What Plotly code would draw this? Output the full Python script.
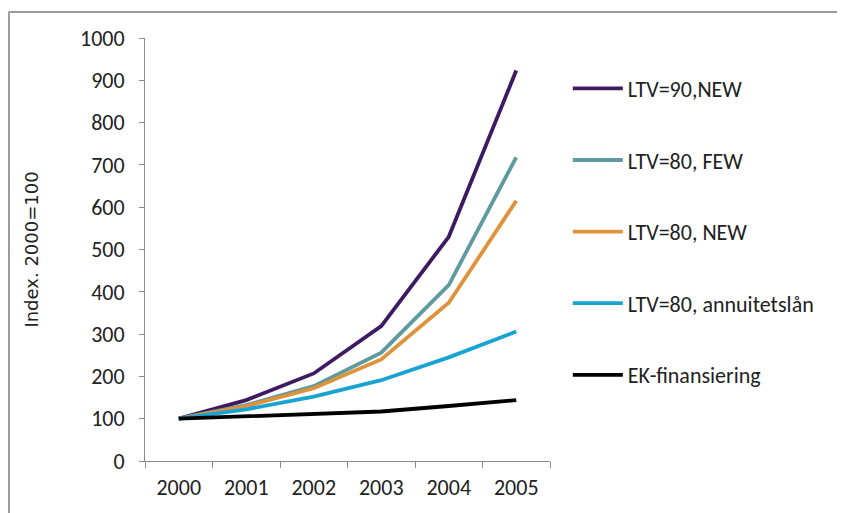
import plotly.graph_objects as go

years = ["2000", "2001", "2002", "2003", "2004", "2005"]
ltv90_new = [100, 144, 207, 319, 530, 923]
ltv80_few = [100, 132, 177, 256, 416, 718]
ltv80_new = [100, 130, 172, 240, 374, 615]
ltv80_ann = [100, 122, 152, 191, 245, 306]
ek_fin = [100, 106, 113, 117, 130, 144]

names = ["LTV=90,NEW", "LTV=80, FEW", "LTV=80, NEW", "LTV=80, annuitetslån", "EK-finansiering"]
series = [ltv90_new, ltv80_few, ltv80_new, ltv80_ann, ek_fin]
colors = ["#3d1a62", "#5f9aa0", "#e0923a", "#17a4d3", "#000000"]

FONT = "Carlito, Calibri, Lato, sans-serif"

fig = go.Figure()
for i, (n, s, c) in enumerate(zip(names, series, colors)):
    fig.add_trace(go.Scatter(x=years, y=s, name=n, mode="lines",
                             line=dict(color=c, width=3.8),
                             legendgroup=f"g{i}"))

fig.update_layout(
    width=837, height=505,
    margin=dict(l=137, r=295, t=30, b=52),
    paper_bgcolor="white", plot_bgcolor="white",
    font=dict(family=FONT, size=22, color="#222222"),
    showlegend=True,
    legend=dict(x=1.044, y=0.93, xanchor="left", yanchor="top",
                tracegroupgap=40, itemwidth=50,
                font=dict(family=FONT, size=22, color="#222222"),
                bgcolor="rgba(0,0,0,0)"),
    xaxis=dict(type="category", range=[-0.5, 5.5], showline=True, linecolor="#8c8c8c",
               linewidth=1, ticks="outside", tickson="boundaries", ticklen=6,
               tickcolor="#8c8c8c", showgrid=False, zeroline=False,
               tickfont=dict(size=22), ticklabelstandoff=7, automargin=False),
    yaxis=dict(range=[0, 1000], dtick=100, showline=True, linecolor="#8c8c8c",
               linewidth=1, ticks="outside", ticklen=5, tickcolor="#8c8c8c",
               showgrid=False, zeroline=False, tickfont=dict(size=22),
               ticklabelstandoff=10, automargin=False,
               title=dict(text="Index. 2000=100", standoff=36,
                          font=dict(family="DejaVu Sans, Verdana, sans-serif", size=18))),
    shapes=[
        dict(type="line", xref="paper", yref="paper", x0=-0.336, x1=1.8, y0=1.0615, y1=1.0615,
             line=dict(color="#9a9a9a", width=2)),
        dict(type="line", xref="paper", yref="paper", x0=-0.336, x1=-0.336, y0=1.0615, y1=-0.2,
             line=dict(color="#9a9a9a", width=2)),
    ],
)

fig.write_html("out.html")
